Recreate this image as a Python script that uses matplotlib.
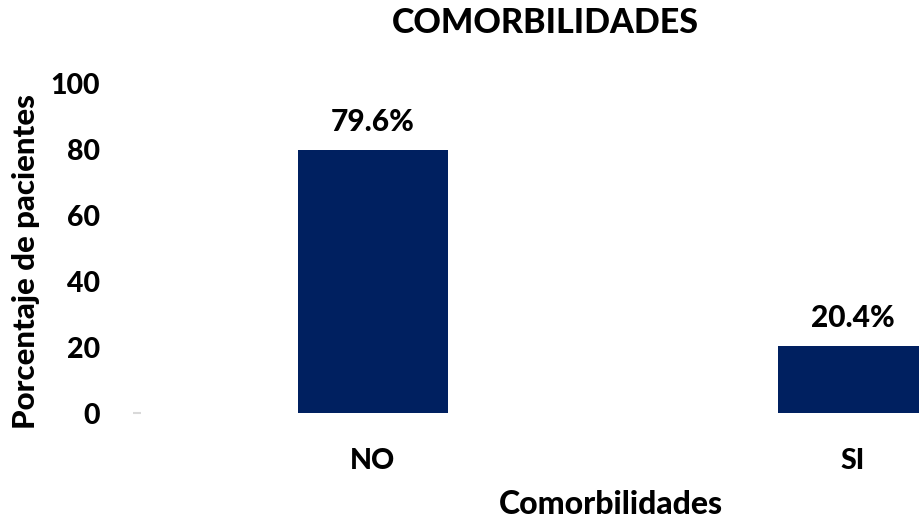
import matplotlib.pyplot as plt

categorias = ["NO", "SI"]
porcentajes = [79.6, 20.4]
etiquetas = ["79.6%", "20.4%"]
yticks = [0, 20, 40, 60, 80, 100]

plt.rcParams['font.family'] = ['Lato', 'DejaVu Sans']
plt.rcParams['font.weight'] = 'black'

fig = plt.figure(figsize=(9.19, 5.21), dpi=100)
# the plot area runs past the right edge of the figure
ax = fig.add_axes([133 / 919, 108 / 521, 960 / 919, 330 / 521])

x = range(len(categorias))
barras = ax.bar(x, porcentajes, width=0.3125, color='#002060')
for b, txt in zip(barras, etiquetas):
    ax.annotate(txt, (b.get_x() + b.get_width() / 2, b.get_height()),
                xytext=(0, 10), textcoords='offset points',
                ha='center', va='bottom', fontsize=21.5)

ax.set_xlim(-0.5, 1.5)
ax.set_ylim(0, 100)
ax.set_yticks(yticks)
ax.set_xticks(list(x))
ax.set_xticklabels(categorias)
ax.tick_params(axis='y', length=0, pad=24, labelsize=20.5)
ax.tick_params(axis='x', length=0, pad=25, labelsize=20.5)
# small grey mark at the baseline
ax.yaxis.remove_overlapping_locs = False
ax.set_yticks([0], minor=True)
ax.tick_params(axis='y', which='minor', direction='in', length=6, width=1.5, color='#d9d9d9')
for s in ax.spines.values():
    s.set_visible(False)

fig.text(545 / 919, 1 - 23 / 521, "COMORBILIDADES", ha='center', va='center',
         fontsize=24.5)
fig.text(611 / 919, 1 - 504 / 521, "Comorbilidades", ha='center', va='center',
         fontsize=23)
fig.text(26 / 919, 1 - 262 / 521, "Porcentaje de pacientes", ha='center', va='center',
         rotation=90, fontsize=22.5)

fig.savefig('out.png', dpi=100)
